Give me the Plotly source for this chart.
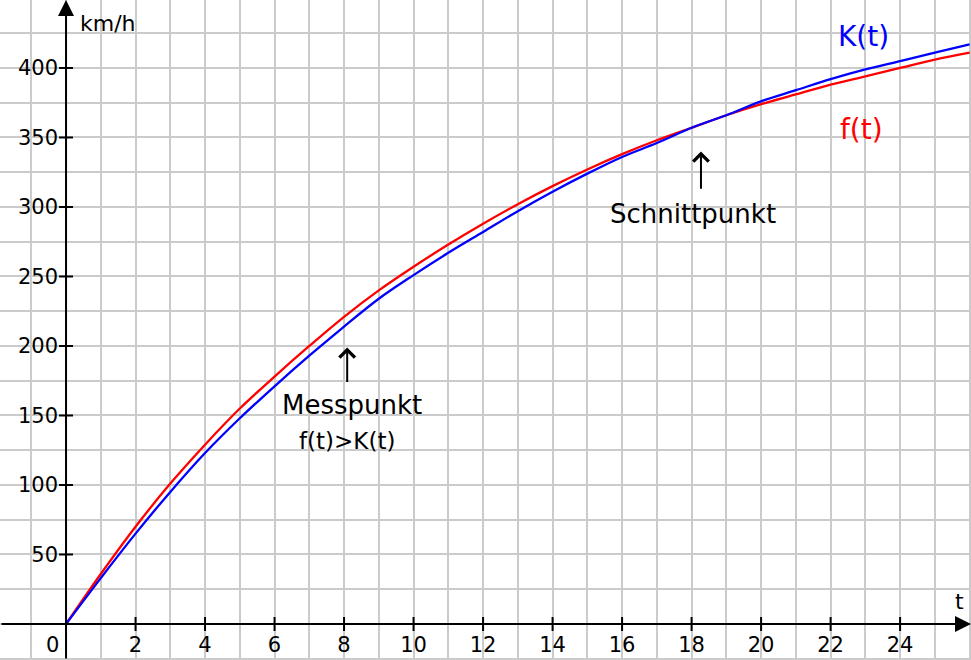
import plotly.graph_objects as go

# time in hours (t) and speed in km/h
t = list(range(0, 27))
f_vals = [0, 36, 70, 101, 129, 155, 178, 200, 221, 240, 257, 273, 288, 302,
          315, 327, 338, 348, 357, 366, 374, 381, 388, 394, 400, 406, 411]
K_vals = [0, 33, 65, 95, 123, 148, 171, 193, 214, 234, 251, 267, 282, 297,
          311, 324, 336, 346, 357, 366, 376, 384, 392, 399, 405, 411, 417]

x_ticks = [2, 4, 6, 8, 10, 12, 14, 16, 18, 20, 22, 24]
y_ticks = [50, 100, 150, 200, 250, 300, 350, 400]

FONT = "DejaVu Sans"
GRID = "#cbcbcb"

fig = go.Figure()

fig.add_trace(go.Scatter(
    x=t, y=f_vals, mode='lines', name='f(t)',
    line=dict(color='#ff0000', width=2.3, shape='spline')
))
fig.add_trace(go.Scatter(
    x=t, y=K_vals, mode='lines', name='K(t)',
    line=dict(color='#0000ff', width=2.3, shape='spline')
))

# tick marks crossing the axes
fig.add_trace(go.Scatter(
    x=x_ticks, y=[0] * len(x_ticks), mode='markers', hoverinfo='skip',
    marker=dict(symbol='line-ns', size=10, line=dict(width=2, color='black'))
))
fig.add_trace(go.Scatter(
    x=[0] * len(y_ticks), y=y_ticks, mode='markers', hoverinfo='skip',
    marker=dict(symbol='line-ew', size=10, line=dict(width=2, color='black'))
))

x_min, x_max = -1.9, 26.04
y_min, y_max = -25.9, 448.9

# axes with arrow heads
axis_arrow = dict(showarrow=True, arrowhead=2, arrowsize=1.6, arrowwidth=2,
                  arrowcolor='black', text='', axref='x', ayref='y',
                  xref='x', yref='y')
fig.add_annotation(x=0, y=y_max, ax=0, ay=y_min, **axis_arrow)
fig.add_annotation(x=x_max, y=0, ax=x_min, ay=0, **axis_arrow)

# pointers
pointer = dict(showarrow=True, arrowhead=4, arrowsize=1.5, arrowwidth=2,
               arrowcolor='black', text='', axref='x', ayref='y',
               xref='x', yref='y')
fig.add_annotation(x=8.09, y=199, ax=8.09, ay=173, **pointer)
fig.add_annotation(x=18.27, y=340, ax=18.27, ay=312, **pointer)

labels = [
    (1.21, 432, 'km/h', 22, 'black'),
    (22.96, 423, 'K(t)', 28, '#0000ff'),
    (22.88, 356, 'f(t)', 28, '#ff0000'),
    (8.23, 157.5, 'Messpunkt', 26, 'black'),
    (8.09, 132, 'f(t)>K(t)', 23, 'black'),
    (18.04, 295, 'Schnittpunkt', 26, 'black'),
    (25.7, 16.5, 't', 22, 'black'),
    (-0.4, -15, '0', 21, 'black'),
]
for lx, ly, txt, size, col in labels:
    fig.add_annotation(x=lx, y=ly, text=txt, showarrow=False,
                       font=dict(family=FONT, size=size, color=col))

fig.update_xaxes(
    range=[x_min, x_max], anchor='free', position=36 / 660,
    tickvals=x_ticks, ticks='', ticklabelstandoff=6, automargin=False,
    tickfont=dict(family=FONT, size=21, color='black'),
    showgrid=True, gridcolor=GRID, gridwidth=1.5,
    minor=dict(dtick=1, tick0=0, showgrid=True, gridcolor=GRID, gridwidth=1.5),
    zeroline=False, showline=False, fixedrange=True
)
fig.update_yaxes(
    range=[y_min, y_max], anchor='free', position=66 / 971,
    tickvals=y_ticks, ticks='', ticklabelstandoff=8, automargin=False,
    tickfont=dict(family=FONT, size=21, color='black'),
    showgrid=True, gridcolor=GRID, gridwidth=1.5,
    minor=dict(dtick=25, tick0=0, showgrid=True, gridcolor=GRID, gridwidth=1.5),
    zeroline=False, showline=False, fixedrange=True
)

fig.update_layout(
    width=971, height=660,
    margin=dict(l=0, r=0, t=0, b=0, autoexpand=False),
    showlegend=False,
    plot_bgcolor='white', paper_bgcolor='white',
    font=dict(family=FONT)
)

# drop the default page margin so the figure fills the window
fig.write_html("out.html", config={'displayModeBar': False},
               post_script="document.body.style.margin='0';")
